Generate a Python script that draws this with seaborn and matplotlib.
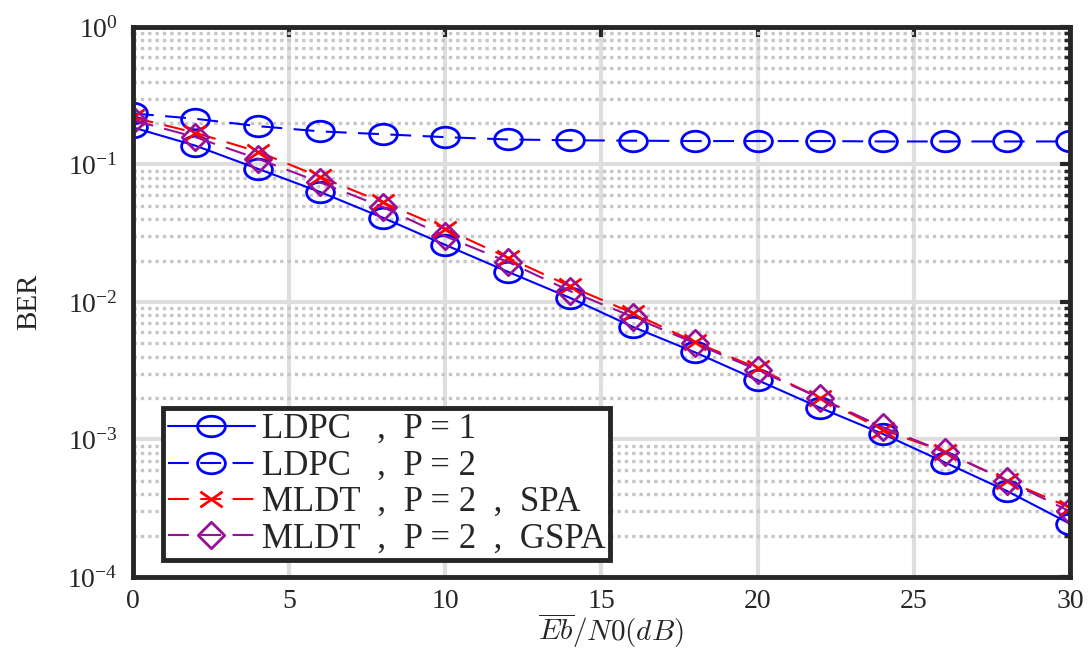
import matplotlib
matplotlib.use("Agg")
import matplotlib.pyplot as plt
import matplotlib.ticker as mticker
from matplotlib.path import Path
from matplotlib.transforms import Affine2D
import seaborn as sns
import pandas as pd

# Eb/N0 (dB) values and BER curves
snr = [0, 2, 4, 6, 8, 10, 12, 14, 16, 18, 20, 22, 24, 26, 28, 30]
ldpc_p1 = [0.186, 0.137, 0.093, 0.063, 0.041, 0.026, 0.0166, 0.0107, 0.0066,
           0.0043, 0.0027, 0.0017, 0.0011, 0.00068, 0.00042, 0.000244]
ldpc_p2 = [0.235, 0.215, 0.19, 0.174, 0.166, 0.158, 0.152, 0.150, 0.149,
           0.148, 0.148, 0.148, 0.147, 0.147, 0.147, 0.147]
mldt_spa = [0.22, 0.17, 0.124, 0.081, 0.053, 0.034, 0.021, 0.013, 0.0083,
            0.0051, 0.0033, 0.0020, 0.00118, 0.00081, 0.0005, 0.00032]
mldt_gspa = [0.21, 0.158, 0.11, 0.074, 0.049, 0.030, 0.0196, 0.012, 0.0078,
             0.0050, 0.0032, 0.0020, 0.00123, 0.00081, 0.00050, 0.00030]
labels = ["LDPC   ,  P = 1", "LDPC   ,  P = 2",
          "MLDT  ,  P = 2  ,  SPA", "MLDT  ,  P = 2  ,  GSPA"]

sns.set_style("white")
plt.rcParams['font.family'] = ['Liberation Serif', 'DejaVu Serif']
plt.rcParams['mathtext.fontset'] = 'cm'

# the original figure is stretched sideways, so the markers are too
ellipse = Affine2D().scale(1.0, 0.74).transform_path(Path.unit_circle())
diamond = Path([(0, 1), (1, 0), (0, -1), (-1, 0), (0, 1)],
               [Path.MOVETO, Path.LINETO, Path.LINETO, Path.LINETO, Path.CLOSEPOLY])
cross = Path([(-1, -0.7), (1, 0.7), (-1, 0.7), (1, -0.7)],
             [Path.MOVETO, Path.LINETO, Path.MOVETO, Path.LINETO])

fig = plt.figure(figsize=(10.89, 6.53), dpi=100)
ax = fig.add_axes([0.1221, 0.1164, 0.8604, 0.8423])

dash = (10, 5.5)
styles = [
    dict(y=ldpc_p1, color='#0000ff', marker=ellipse, ms=20, ls='-'),
    dict(y=ldpc_p2, color='#0000ff', marker=ellipse, ms=20, ls='--'),
    dict(y=mldt_spa, color='#ff0000', marker=cross, ms=16, ls='--'),
    dict(y=mldt_gspa, color='#990f99', marker=diamond, ms=19, ls='--'),
]
for st, lab in zip(styles, labels):
    df = pd.DataFrame({'snr': snr, 'ber': st['y']})
    line = sns.lineplot(data=df, x='snr', y='ber', ax=ax, color=st['color'],
                        marker=st['marker'], markersize=st['ms'], linestyle=st['ls'],
                        linewidth=1.5, markerfacecolor='none',
                        markeredgecolor=st['color'], markeredgewidth=2.0,
                        label=lab).lines[-1]
    if st['ls'] == '--':
        line.set_dashes(dash)

ax.set_yscale('log')
ax.set_xlim(0, 30)
ax.set_ylim(1e-4, 1)
ax.set_xticks([0, 5, 10, 15, 20, 25, 30])
ax.yaxis.set_major_locator(mticker.LogLocator(base=10, numticks=10))
ax.yaxis.set_minor_locator(mticker.LogLocator(base=10, subs=range(2, 10), numticks=20))
ax.yaxis.set_minor_formatter(mticker.NullFormatter())

ax.grid(True, which='major', color='#dedede', linewidth=3.0, linestyle='-')
ax.grid(True, which='minor', axis='y', color='#c6c6c6', linewidth=2.4,
        linestyle=(0, (1.0, 1.2)))
ax.set_axisbelow(True)

for sp in ax.spines.values():
    sp.set_visible(True)
    sp.set_color('#262626')
    sp.set_linewidth(3.5)
ax.tick_params(which='both', direction='in', top=True, right=True,
               color='#262626', labelsize=20, labelcolor='#262626')
ax.tick_params(axis='x', pad=9)
ax.tick_params(axis='y', pad=11)
ax.tick_params(which='major', length=7.5, width=3)
ax.tick_params(which='minor', length=4.5, width=2.5)

ax.set_xlabel(r'$\overline{Eb}/N0(dB)$', fontsize=21, color='#262626')
ax.xaxis.set_label_coords(0.51, -0.064)
ax.set_ylabel('BER', fontsize=21, color='#262626')
ax.yaxis.set_label_coords(-0.097, 0.5)

leg = ax.legend(loc='lower left', bbox_to_anchor=(0.032, 0.03), borderaxespad=0,
                fontsize=25, handlelength=2.5, labelspacing=0.1,
                handletextpad=0.2, borderpad=0.14, fancybox=False,
                framealpha=1, edgecolor='#262626')
leg.get_frame().set_linewidth(3.5)

fig.savefig('out.png', dpi=100)
